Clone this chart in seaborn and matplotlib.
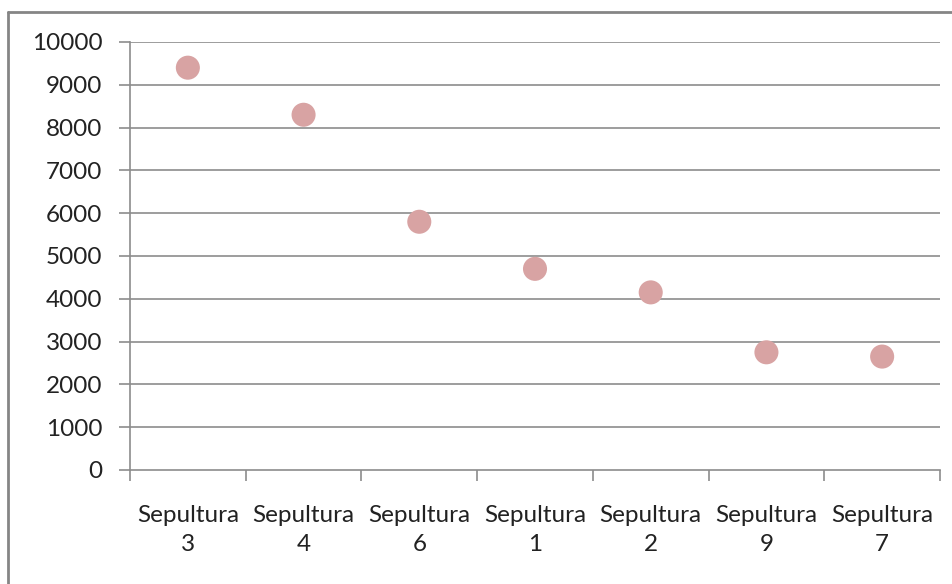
import matplotlib
matplotlib.use("Agg")
import matplotlib.pyplot as plt
from matplotlib.lines import Line2D
from matplotlib.ticker import FixedLocator
import seaborn as sns
import pandas as pd
import numpy as np

categories = ["Sepultura\n3", "Sepultura\n4", "Sepultura\n6", "Sepultura\n1",
              "Sepultura\n2", "Sepultura\n9", "Sepultura\n7"]
values = [9400, 8300, 5800, 4700, 4150, 2750, 2650]
y_ticks = [0, 1000, 2000, 3000, 4000, 5000, 6000, 7000, 8000, 9000, 10000]

sns.set_style("white")
plt.rcParams["font.family"] = ["Lato", "DejaVu Sans"]

W, H = 953, 584
fig = plt.figure(figsize=(W / 100, H / 100), dpi=100)
ax = fig.add_axes([130 / W, 1 - 470 / H, (940 - 130) / W, (470 - 42) / H])

df = pd.DataFrame({"pos": np.arange(len(categories)), "value": values})
sns.scatterplot(data=df, x="pos", y="value", ax=ax, s=300, color="#D8A3A3",
                edgecolor="none", zorder=3, legend=False)

grid_c = "#8C8C8C"
text_c = "#222222"
ax.set_ylim(0, 10000)
ax.set_xlim(-0.5, len(categories) - 0.5)
ax.yaxis.set_major_locator(FixedLocator(y_ticks))
for yv in y_ticks[1:]:
    ax.axhline(yv, color=grid_c, lw=1.2, zorder=1)

# category labels centred, tick marks on the boundaries between them
ax.set_xticks(np.arange(len(categories)))
ax.set_xticklabels(categories, fontsize=17.5, color=text_c, linespacing=1.5)
ax.xaxis.set_minor_locator(FixedLocator(np.arange(-0.5, len(categories), 1.0)))
ax.tick_params(axis="x", which="major", bottom=True, length=0, pad=25)
ax.tick_params(axis="x", which="minor", bottom=True, length=8, width=1.2,
               color=grid_c, direction="out")
ax.tick_params(axis="y", which="major", left=True, length=8, width=1.2,
               color=grid_c, direction="out", labelsize=17.5, labelcolor=text_c,
               pad=12)
ax.set_xlabel("")
ax.set_ylabel("")

for side in ["top", "right"]:
    ax.spines[side].set_visible(False)
for side in ["left", "bottom"]:
    ax.spines[side].set_color(grid_c)
    ax.spines[side].set_linewidth(1.2)

# chart frame (top and left edges)
frame_c = "#858585"
fig.add_artist(Line2D([8 / W, 1.0], [1 - 12 / H, 1 - 12 / H],
                      transform=fig.transFigure, color=frame_c, lw=2))
fig.add_artist(Line2D([8 / W, 8 / W], [0.0, 1 - 12 / H],
                      transform=fig.transFigure, color=frame_c, lw=2))

fig.savefig("out.png", dpi=100)
